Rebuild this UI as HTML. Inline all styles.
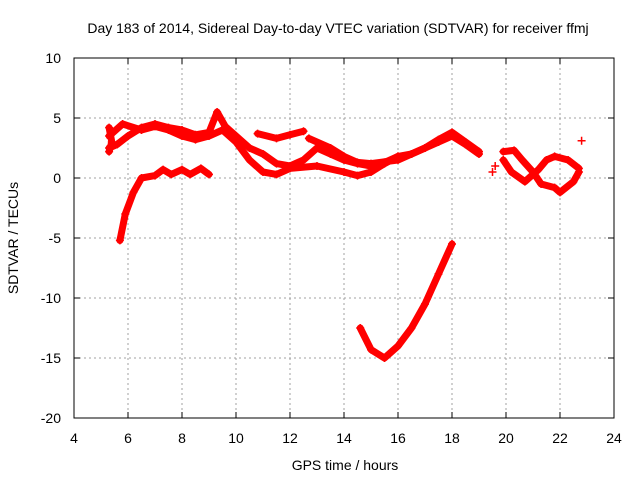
<!DOCTYPE html>
<html><head><meta charset="utf-8"><style>
body{margin:0;background:#fff;}
svg{display:block;font-family:"Liberation Sans",sans-serif;font-size:14px;}
</style></head><body>
<svg id="c" width="640" height="480">
<text x="338" y="33" text-anchor="middle">Day 183 of 2014, Sidereal Day-to-day VTEC variation (SDTVAR) for receiver ffmj</text>
<text x="345" y="470" text-anchor="middle">GPS time / hours</text>
<text transform="translate(18,238) rotate(-90)" text-anchor="middle">SDTVAR / TECUs</text>
<g id="grid"></g><g id="axes"></g><g id="marks"></g>
<rect x="74" y="58" width="540" height="360" fill="none" stroke="#000"/>
</svg>
<script>
const xTicks=[4,6,8,10,12,14,16,18,20,22,24];
const yTicks=[10,5,0,-5,-10,-15,-20];
const trackA=[[5.3,3.5],[5.8,4.5],[6.5,4.0],[7,4.3],[7.5,4.0],[8,3.5],[8.5,3.2],[9,3.5],[9.5,4],[10,3.0],[10.5,1.5],[11,0.5],[11.5,0.3],[12,0.8],[13,1.0],[14,0.5],[14.5,0.2],[15,0.5],[15.5,1.2],[16,1.8],[16.5,2.0],[17,2.5],[17.5,3.0],[18,3.5],[18.5,2.8],[19,2.0]];
const trackB=[[5.3,2.5],[5.6,2.8],[6,3.5],[6.5,4.2],[7,4.5],[7.5,4.2],[8,4.0],[8.5,3.6],[9,3.8],[9.3,5.5],[9.6,4.3],[10,3.5],[10.5,2.5],[11,2.0],[11.5,1.2],[12,1.0],[12.5,1.5],[13,2.5],[13.5,2.0],[14,1.5],[14.5,1.2],[15,1.0],[15.5,1.3],[16,1.8]];
const trackC=[[10.8,3.7],[11.5,3.3],[12,3.6],[12.5,3.9]];
const trackD=[[12.7,3.3],[13.5,2.5],[14,1.8],[14.5,1.3],[15,1.2],[16,1.5],[16.5,2],[17,2.5],[17.5,3.2],[18,3.8],[18.5,3.0],[19,2.2]];
const trackE=[[5.7,-5.2],[5.9,-3],[6.2,-1.2],[6.5,0],[7,0.2],[7.3,0.7],[7.6,0.3],[8,0.7],[8.3,0.3],[8.7,0.8],[9,0.3]];
const trackF=[[14.6,-12.5],[15,-14.3],[15.5,-15],[16,-14],[16.5,-12.5],[17,-10.5],[17.5,-8],[18,-5.5]];
const trackG=[[19.9,2.2],[20.3,2.3],[20.6,1.5],[21,0.5],[21.3,-0.5],[21.8,-0.8],[22.0,-1.2],[22.5,-0.3],[22.7,0.5]];
const trackH=[[19.9,1.5],[20.2,0.5],[20.7,-0.3],[21.2,0.7],[21.5,1.5],[21.8,1.8],[22.3,1.5],[22.7,0.8]];
const trackI=[[5.3,4.2],[5.4,3.0],[5.3,2.2]];
const isolated=[[22.8,3.1],[19.5,0.5],[19.6,1.0]];
const tracks=[trackA,trackB,trackC,trackD,trackE,trackF,trackG,trackH,trackI];
const NS="http://www.w3.org/2000/svg";
const X=v=>74+(v-4)*27, Y=v=>178-v*12;
function mk(t,p,a){const e=document.createElementNS(NS,t);for(const k in a)e.setAttribute(k,a[k]);p.appendChild(e);return e;}
const grid=document.getElementById('grid'),axes=document.getElementById('axes'),marks=document.getElementById('marks');
xTicks.forEach(t=>{const x=X(t);
 if(t>4&&t<24){const g=mk('line',grid,{x1:x,x2:x,y1:58,y2:418,stroke:'#a0a0a0','stroke-dasharray':'2,3'});
 }
 mk('line',axes,{x1:x,x2:x,y1:418,y2:412,stroke:'#000'});mk('line',axes,{x1:x,x2:x,y1:58,y2:64,stroke:'#000'});
 const l=mk('text',axes,{x:x,y:443,'text-anchor':'middle'});l.textContent=t;
 });
yTicks.forEach(t=>{const y=Y(t);
 if(t<10&&t>-20){const g=mk('line',grid,{x1:74,x2:614,y1:y,y2:y,stroke:'#a0a0a0','stroke-dasharray':'2,3'});
 }
 mk('line',axes,{x1:74,x2:80,y1:y,y2:y,stroke:'#000'});mk('line',axes,{x1:614,x2:608,y1:y,y2:y,stroke:'#000'});
 const l=mk('text',axes,{x:61,y:y+5,'text-anchor':'end'});l.textContent=t;
 });
function plus(p,x,y){const d=mk('path',marks,{d:`M${x-4},${y}h8M${x},${y-4}v8`,stroke:'#f00','stroke-width':1.5});
 }
tracks.forEach(tr=>{
 const p=mk('path',marks,{d:tr.map((q,i)=>(i?'L':'M')+X(q[0])+','+Y(q[1])).join(''),fill:'none',stroke:'#f00','stroke-width':7,'stroke-linejoin':'round','stroke-linecap':'round'});
 
 tr.forEach(q=>plus(marks,X(q[0]),Y(q[1])));});
isolated.forEach(q=>plus(marks,X(q[0]),Y(q[1])));
</script>
</body></html>
